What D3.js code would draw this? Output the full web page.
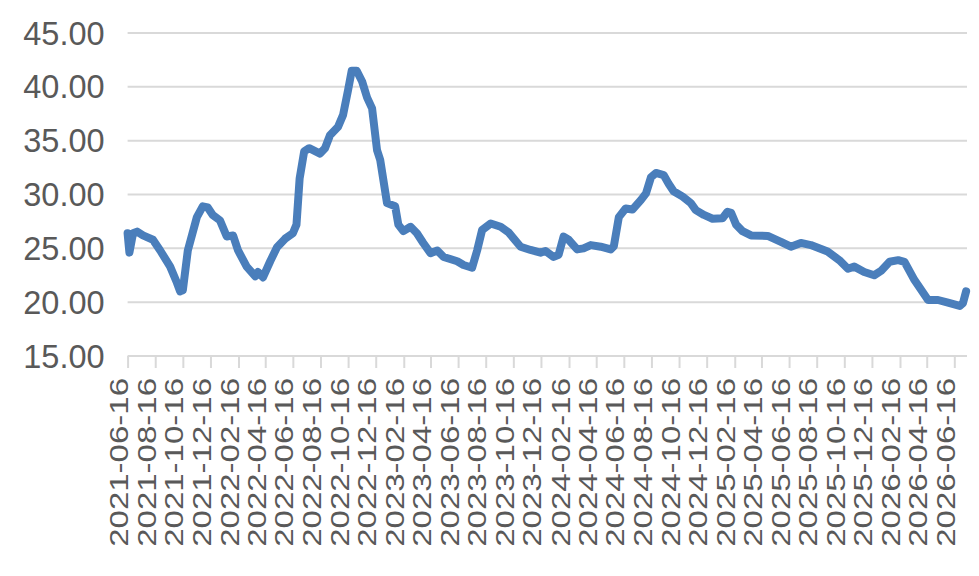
<!DOCTYPE html>
<html>
<head>
<meta charset="utf-8">
<script src="https://cdn.jsdelivr.net/npm/d3@7"></script>
<style>
  html, body { margin: 0; padding: 0; background: #fff; }
  #chart { width: 979px; height: 576px; }
  text { font-family: "Liberation Sans", Arial, sans-serif; fill: #595959; }
</style>
</head>
<body>
<div id="chart"></div>
<script>
// values
const dates = [
  '2021-06-16', '2021-06-20', '2021-06-28', '2021-07-07', '2021-07-20', '2021-08-11',
  '2021-08-27', '2021-09-18', '2021-10-03', '2021-10-10', '2021-10-16', '2021-10-27',
  '2021-11-16', '2021-11-29', '2021-12-10', '2021-12-21', '2022-01-06', '2022-01-21',
  '2022-02-04', '2022-02-15', '2022-03-06', '2022-03-25', '2022-03-31', '2022-04-11',
  '2022-04-27', '2022-05-12', '2022-05-30', '2022-06-16', '2022-06-24', '2022-07-01',
  '2022-07-11', '2022-07-22', '2022-08-15', '2022-08-26', '2022-09-06', '2022-09-24',
  '2022-10-05', '2022-10-16', '2022-10-24', '2022-11-04', '2022-11-16', '2022-11-27',
  '2022-12-08', '2022-12-19', '2022-12-26', '2023-01-10', '2023-01-28', '2023-02-04',
  '2023-02-15', '2023-03-03', '2023-03-17', '2023-03-31', '2023-04-16', '2023-05-01',
  '2023-05-15', '2023-06-14', '2023-06-28', '2023-07-17', '2023-07-28', '2023-08-08',
  '2023-08-27', '2023-09-18', '2023-10-05', '2023-11-01', '2023-11-23', '2023-12-15',
  '2023-12-26', '2024-01-13', '2024-01-24', '2024-02-04', '2024-02-15', '2024-03-05',
  '2024-03-19', '2024-04-04', '2024-04-26', '2024-05-18', '2024-05-25', '2024-06-05',
  '2024-06-20', '2024-07-05', '2024-07-24', '2024-08-04', '2024-08-15', '2024-08-26',
  '2024-09-12', '2024-09-23', '2024-10-04', '2024-10-24', '2024-11-11', '2024-11-22',
  '2024-12-10', '2024-12-29', '2025-01-20', '2025-01-31', '2025-02-08', '2025-02-19',
  '2025-03-05', '2025-03-24', '2025-04-30', '2025-05-29', '2025-06-20', '2025-07-12',
  '2025-08-03', '2025-09-09', '2025-10-05', '2025-10-24', '2025-11-07', '2025-11-29',
  '2025-12-21', '2026-01-05', '2026-01-24', '2026-02-12', '2026-02-26', '2026-03-20',
  '2026-04-19', '2026-05-11', '2026-06-02', '2026-06-28', '2026-07-05', '2026-07-12'
];
const values = [
  26.4, 24.6, 26.4, 26.55, 26.2, 25.8,
  24.8, 23.3, 21.8, 21.0, 21.1, 24.8,
  27.9, 28.9, 28.8, 28.1, 27.6, 26.1,
  26.2, 24.8, 23.3, 22.4, 22.8, 22.3,
  23.8, 25.1, 25.9, 26.4, 27.2, 31.5,
  34.0, 34.3, 33.8, 34.3, 35.5, 36.3,
  37.4, 39.7, 41.5, 41.5, 40.5, 39.0,
  38.0, 34.1, 33.2, 29.2, 28.9, 27.2,
  26.6, 27.0, 26.4, 25.5, 24.55, 24.8,
  24.2, 23.8, 23.45, 23.2, 24.8, 26.7,
  27.3, 27.0, 26.5, 25.15, 24.85, 24.6,
  24.75, 24.2, 24.4, 26.1, 25.8, 24.9,
  25.0, 25.3, 25.15, 24.9, 25.2, 27.9,
  28.7, 28.6, 29.5, 30.1, 31.6, 32.0,
  31.8, 31.0, 30.3, 29.8, 29.2, 28.55,
  28.1, 27.75, 27.8, 28.4, 28.3, 27.2,
  26.6, 26.2, 26.15, 25.6, 25.15, 25.5,
  25.3, 24.7, 23.9, 23.1, 23.3, 22.8,
  22.5, 22.9, 23.75, 23.9, 23.75, 22.05,
  20.2, 20.2, 19.95, 19.65, 19.9, 21.0
];
const yTicks = [15, 20, 25, 30, 35, 40, 45];
const xTickLabels = [
  '2021-06-16', '2021-08-16', '2021-10-16', '2021-12-16', '2022-02-16', '2022-04-16',
  '2022-06-16', '2022-08-16', '2022-10-16', '2022-12-16', '2023-02-16', '2023-04-16',
  '2023-06-16', '2023-08-16', '2023-10-16', '2023-12-16', '2024-02-16', '2024-04-16',
  '2024-06-16', '2024-08-16', '2024-10-16', '2024-12-16', '2025-02-16', '2025-04-16',
  '2025-06-16', '2025-08-16', '2025-10-16', '2025-12-16', '2026-02-16', '2026-04-16',
  '2026-06-16'
];
const axisStart = '2021-06-16';
const axisEnd = '2026-07-14';

const width = 979;
const height = 576;
const margin = { left: 127.6, right: 12, top: 33, bottom: 220 };

const parse = d3.utcParse('%Y-%m-%d');
const points = dates.map((d, i) => ({ date: parse(d), value: values[i] }));

const svg = d3
  .select('#chart')
  .append('svg')
  .attr('width', width)
  .attr('height', height)
  .attr('viewBox', `0 0 ${width} ${height}`);

svg.append('rect').attr('width', width).attr('height', height).attr('fill', '#fff');

const x = d3
  .scaleUtc()
  .domain([parse(axisStart), parse(axisEnd)])
  .range([margin.left, width - margin.right]);

const y = d3
  .scaleLinear()
  .domain([15, 45])
  .range([height - margin.bottom, margin.top]);

// gridlines
svg
  .append('g')
  .attr('class', 'grid')
  .selectAll('line')
  .data(yTicks.filter((t) => t > 15))
  .join('line')
  .attr('x1', x.range()[0])
  .attr('x2', x.range()[1])
  .attr('y1', (d) => y(d))
  .attr('y2', (d) => y(d))
  .attr('stroke', '#d9d9d9')
  .attr('stroke-width', 2);

// y axis labels
const yAxis = svg
  .append('g')
  .attr('transform', `translate(${margin.left - 23},0)`)
  .call(d3.axisLeft(y).tickValues(yTicks).tickFormat(d3.format('.2f')).tickSize(0).tickPadding(0));
yAxis.select('.domain').remove();
yAxis
  .selectAll('text')
  .attr('font-size', 32.5)
  .attr('dy', null)
  .attr('dominant-baseline', 'central')
  .attr('fill', '#595959');

// x axis
const xAxis = svg
  .append('g')
  .attr('transform', `translate(0,${y(15)})`)
  .call(d3.axisBottom(x).tickValues(xTickLabels.map(parse)).tickSize(12).tickFormat(d3.utcFormat('%Y-%m-%d')));
xAxis.select('.domain').attr('stroke', '#d9d9d9').attr('stroke-width', 2).attr('d', `M${x.range()[0]},0H${x.range()[1]}`);
xAxis.selectAll('.tick line').attr('stroke', '#d9d9d9').attr('stroke-width', 2);
xAxis
  .selectAll('.tick text')
  .attr('font-size', 33)
  .attr('fill', '#595959')
  .attr('text-anchor', 'end')
  .attr('dy', null)
  .attr('y', 0)
  .attr('transform', 'translate(0,22) rotate(-90) scale(1,0.8)');

// series line
const line = d3
  .line()
  .x((d) => x(d.date))
  .y((d) => y(d.value))
  .curve(d3.curveLinear);

svg
  .append('path')
  .datum(points)
  .attr('d', line)
  .attr('fill', 'none')
  .attr('stroke', '#4a7ebb')
  .attr('stroke-width', 8)
  .attr('stroke-linejoin', 'round')
  .attr('stroke-linecap', 'round');
</script>
</body>
</html>
